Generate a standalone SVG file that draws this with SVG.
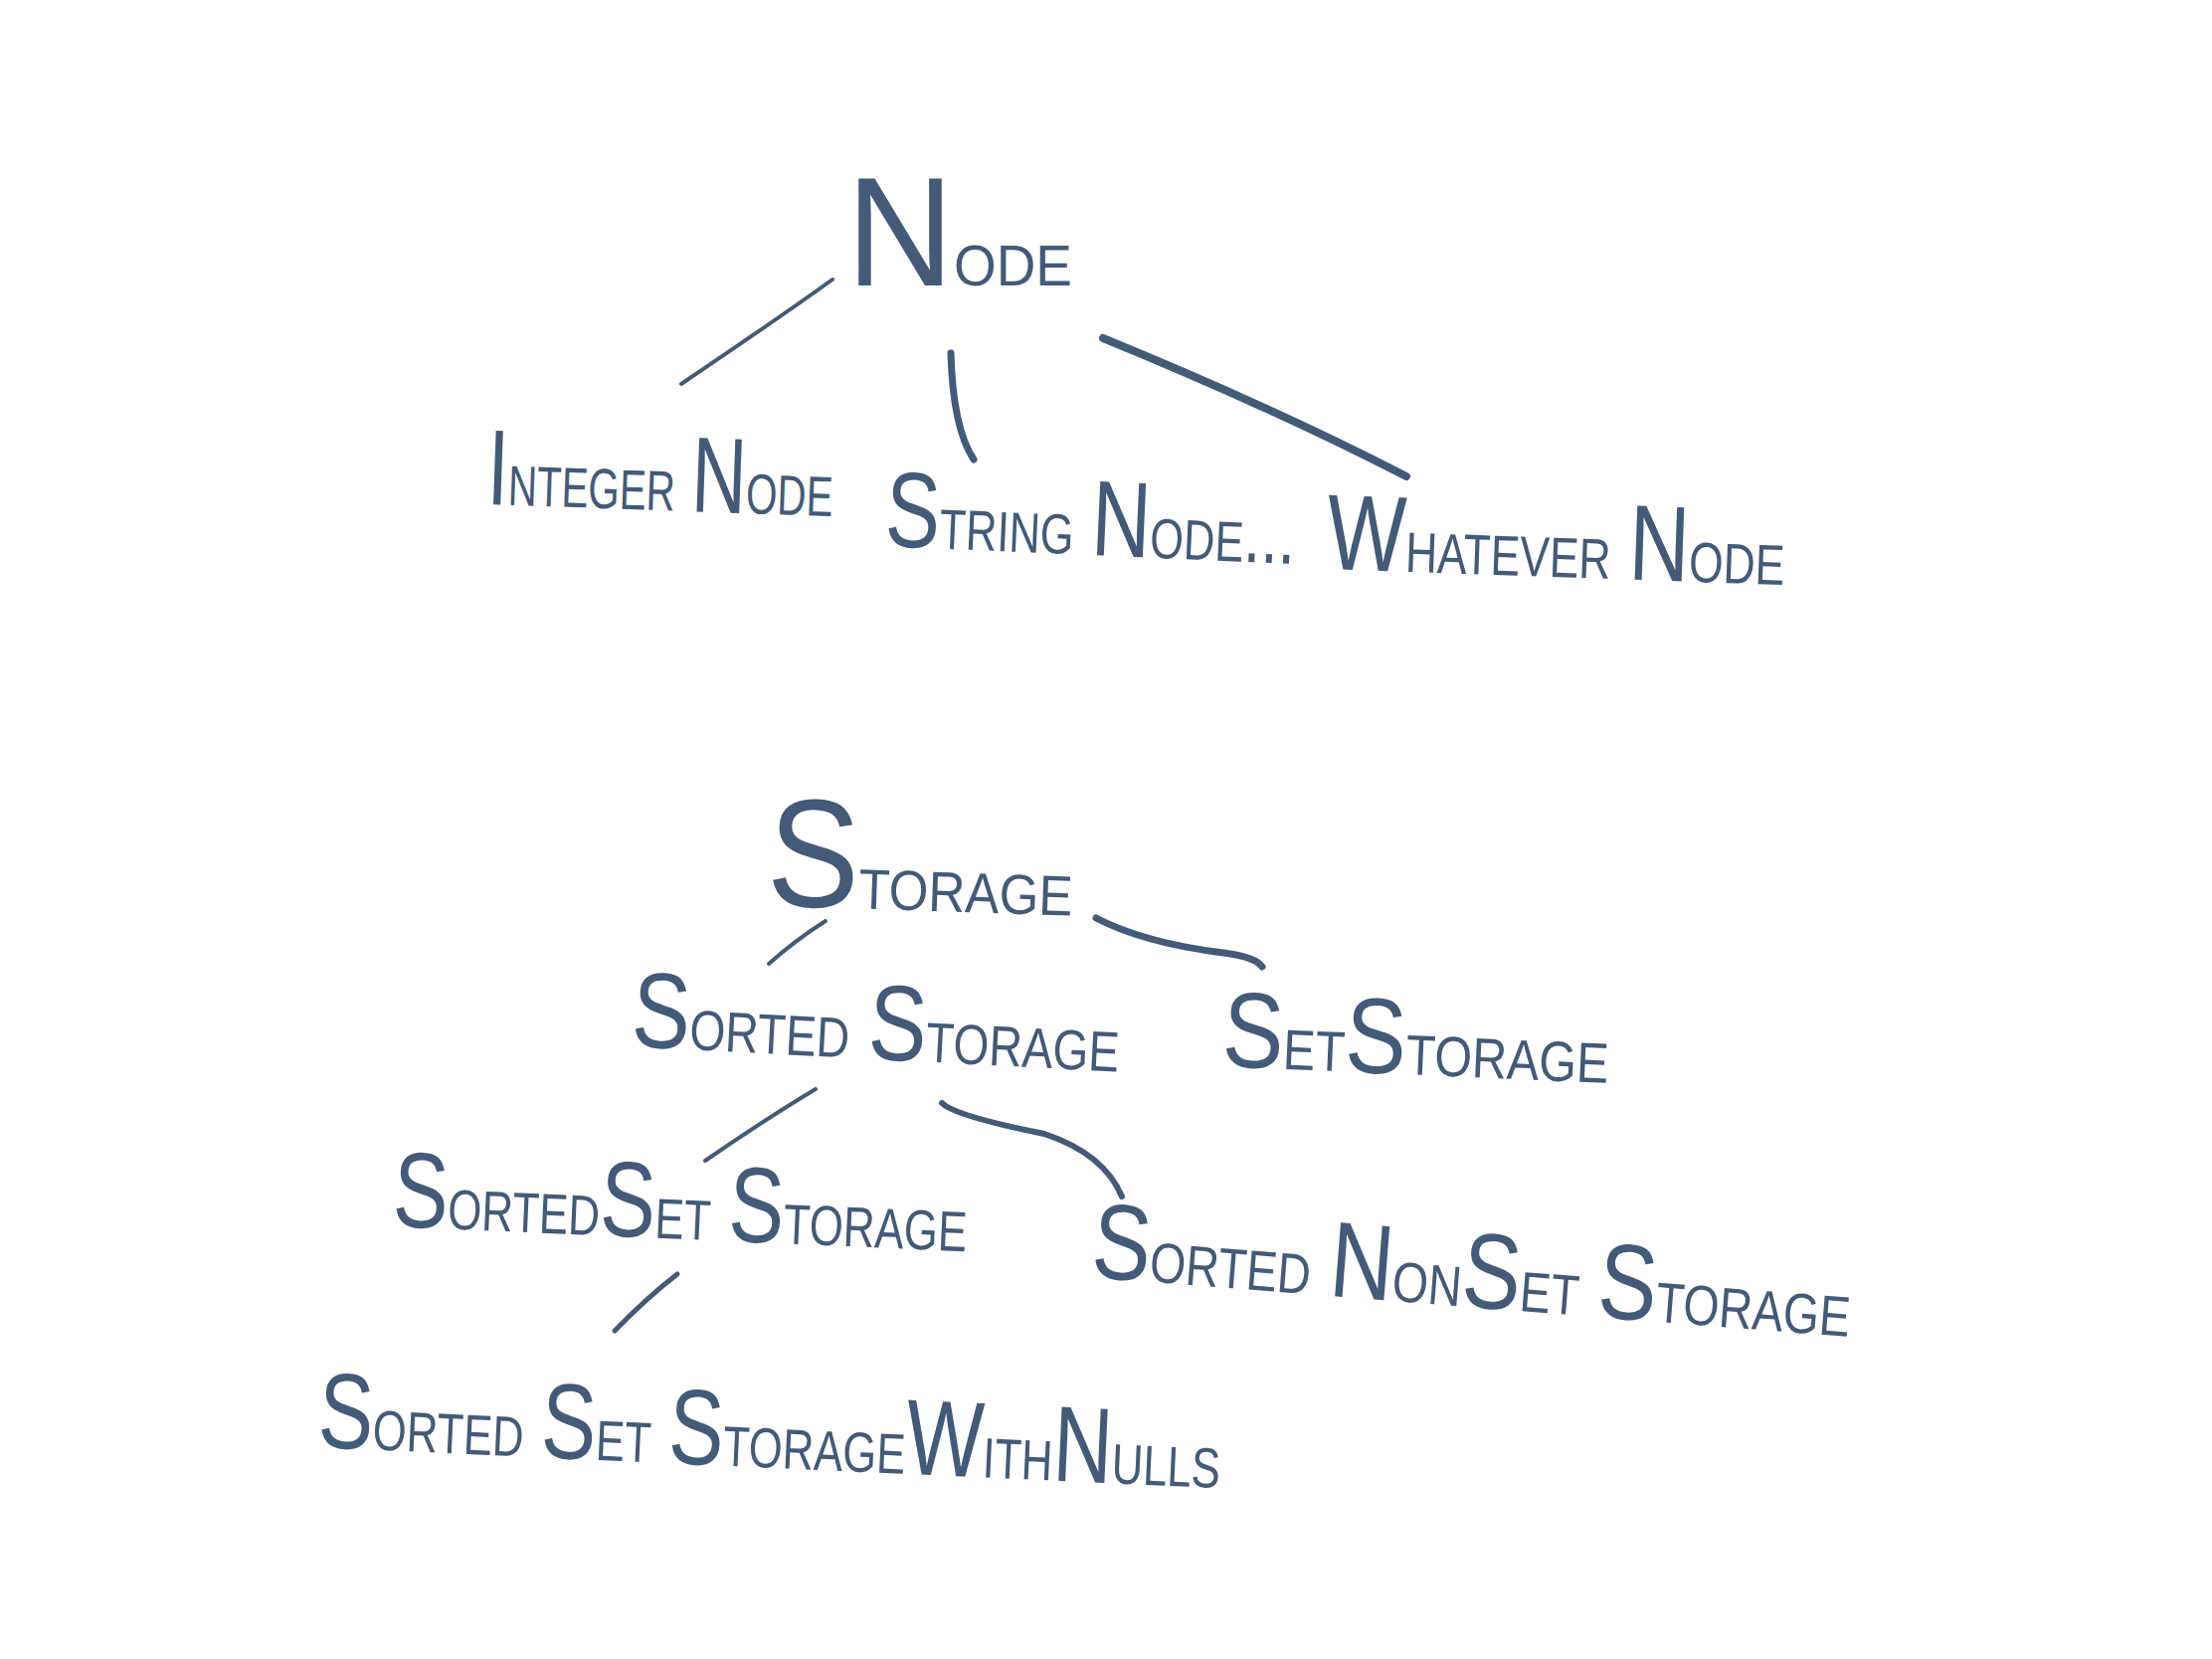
<svg xmlns="http://www.w3.org/2000/svg" width="2224" height="1668" viewBox="0 0 2224 1668">
<style>
.t{font-family:"Liberation Sans","DejaVu Sans",sans-serif;font-variant:small-caps;font-weight:normal;fill:#435a78;font-size:82px}
.c{font-size:108px}
.big{font-size:155px}
.e{fill:none;stroke:#435a78;stroke-linecap:round;stroke-linejoin:round}
</style>
<rect width="2224" height="1668" fill="#ffffff"/>
<g id="connectors">
<path class="e" d="M837,281 Q790,315 685,386" stroke-width="4"/>
<path class="e" d="M956,355 Q958,430 979,462" stroke-width="7"/>
<path class="e" d="M1109,340 Q1280,410 1414,479" stroke-width="8"/>
<path class="e" d="M830,926 Q800,945 773,969" stroke-width="4"/>
<path class="e" d="M1102,923 Q1150,948 1230,958 Q1262,962 1269,972" stroke-width="7"/>
<path class="e" d="M820,1095 Q770,1125 709,1167" stroke-width="4"/>
<path class="e" d="M947,1109 Q960,1122 1050,1140 Q1110,1160 1128,1203" stroke-width="6"/>
<path class="e" d="M681,1281 Q650,1305 618,1338" stroke-width="5"/>
</g>
<g id="node-node"><text class="t" x="851" y="287" textLength="227" lengthAdjust="spacingAndGlyphs" font-size="112"><tspan class="big" font-size="160">N</tspan>ode</text></g>
<g id="node-integer"><text class="t" x="489" y="507" textLength="348" lengthAdjust="spacingAndGlyphs" transform="rotate(2 489 507)"><tspan class="c" font-size="118">I</tspan>nteger <tspan class="c">N</tspan>ode</text></g>
<g id="node-string"><text class="t" x="889" y="549" textLength="413" lengthAdjust="spacingAndGlyphs" transform="rotate(2.5 889 549)"><tspan class="c">S</tspan>tring <tspan class="c">N</tspan>ode...</text></g>
<g id="node-whatever"><text class="t" x="1333" y="572" textLength="461" lengthAdjust="spacingAndGlyphs" transform="rotate(2 1333 572)"><tspan class="c">W</tspan>hatever <tspan class="c">N</tspan>ode</text></g>
<g id="node-storage"><text class="t" x="770" y="910" textLength="308" lengthAdjust="spacingAndGlyphs" transform="rotate(2 770 910)"><tspan class="big" font-size="195">S</tspan>torage</text></g>
<g id="node-sorted-storage"><text class="t" x="634" y="1052" textLength="491" lengthAdjust="spacingAndGlyphs" transform="rotate(3 634 1052)"><tspan class="c">S</tspan>orted <tspan class="c">S</tspan>torage</text></g>
<g id="node-set-storage"><text class="t" x="1228" y="1072" textLength="389" lengthAdjust="spacingAndGlyphs" transform="rotate(2.5 1228 1072)"><tspan class="c">S</tspan>et<tspan class="c" font-size="122">S</tspan>torage</text></g>
<g id="node-sorted-set-storage"><text class="t" x="394" y="1233" textLength="578" lengthAdjust="spacingAndGlyphs" transform="rotate(2.5 394 1233)"><tspan class="c">S</tspan>orted<tspan class="c">S</tspan>et <tspan class="c">S</tspan>torage</text></g>
<g id="node-sorted-nonset-storage"><text class="t" x="1096" y="1284" textLength="765" lengthAdjust="spacingAndGlyphs" transform="rotate(4.5 1096 1284)"><tspan class="c">S</tspan>orted <tspan class="c">N</tspan>on<tspan class="c">S</tspan>et <tspan class="c">S</tspan>torage</text></g>
<g id="node-sorted-set-storage-with-nulls"><text class="t" x="319" y="1455" textLength="908" lengthAdjust="spacingAndGlyphs" transform="rotate(2.6 319 1455)"><tspan class="c" font-size="122">S</tspan>orted <tspan class="c">S</tspan>et <tspan class="c">S</tspan>torage<tspan class="c">W</tspan>ith<tspan class="c">N</tspan>ulls</text></g>
</svg>
